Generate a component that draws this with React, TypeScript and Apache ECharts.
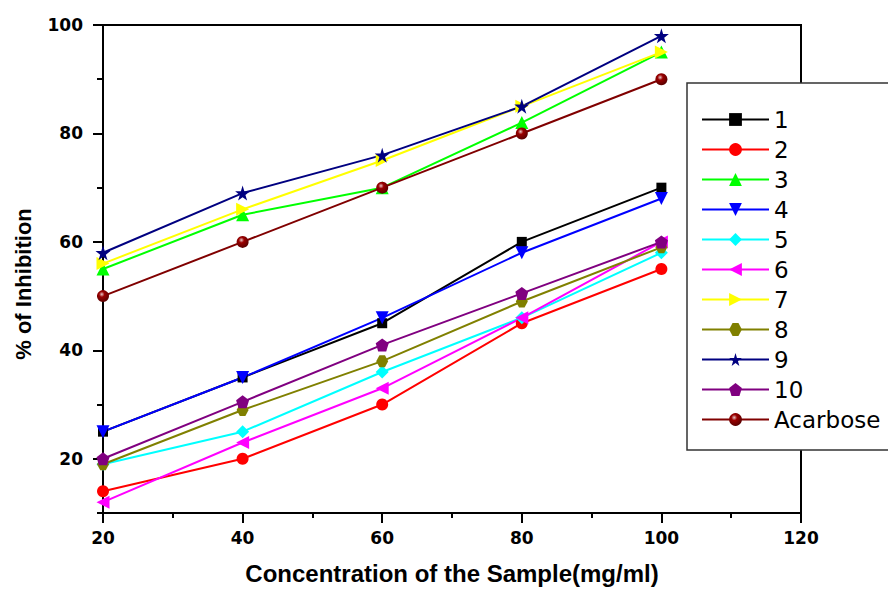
import React, { useEffect, useRef } from 'react';
import * as echarts from 'echarts';

const concentrations = [20, 40, 60, 80, 100];
const yTickValues = [20, 40, 60, 80, 100];
const yMinorTickValues = [10, 30, 50, 70, 90];
const seriesNames = ['1', '2', '3', '4', '5', '6', '7', '8', '9', '10', 'Acarbose'];

const s1 = [25, 35, 45, 60, 70];
const s2 = [14, 20, 30, 45, 55];
const s3 = [55, 65, 70, 82, 95];
const s4 = [25, 35, 46, 58, 68];
const s5 = [19, 25, 36, 46, 58];
const s6 = [12, 23, 33, 46, 60];
const s7 = [56, 66, 75, 85, 95];
const s8 = [19, 29, 38, 49, 59];
const s9 = [58, 69, 76, 85, 98];
const s10 = [20, 30.5, 41, 50.5, 60];
const acarbose = [50, 60, 70, 80, 90];

const allValues = [s1, s2, s3, s4, s5, s6, s7, s8, s9, s10, acarbose];

const colors = ['#000000', '#FF0000', '#00FF00', '#0000FF', '#00FFFF', '#FF00FF', '#FFFF00', '#808000', '#000080', '#800080', '#800000'];

const STAR = 'path://M50,0 L61,35 L98,35 L68,57 L79,91 L50,70 L21,91 L32,57 L2,35 L39,35 Z';
const HEX = 'path://M27,0 L73,0 L100,50 L73,100 L27,100 L0,50 Z';
const PENT = 'path://M50,0 L100,38 L81,100 L19,100 L0,38 Z';

const symbols = ['rect', 'circle', 'triangle', 'triangle', 'diamond', 'triangle', 'triangle', HEX, STAR, PENT, 'circle'];
const rotations = [0, 0, 0, 180, 0, 90, -90, 0, 0, 0, 0];
const sizes = [10, 12, 13, 13, 13, 13, 13, 12, 15, 13, 12];

export default function App() {
  const ref = useRef<HTMLDivElement>(null);
  useEffect(() => {
    if (!ref.current) return;
    const chart = echarts.init(ref.current, undefined, { renderer: 'svg' });
    const black = '#000';
    const series = allValues.map((vals, i) => {
      const itemColor: any = i === 10
        ? {
            type: 'radial', x: 0.4, y: 0.35, r: 0.65,
            colorStops: [
              { offset: 0, color: '#e8c8c8' },
              { offset: 0.35, color: '#9a0000' },
              { offset: 1, color: '#5a0000' },
            ],
          }
        : colors[i];
      return {
        name: seriesNames[i],
        type: 'line',
        xAxisIndex: 0,
        yAxisIndex: 0,
        data: concentrations.map((c, j) => [c, vals[j]]),
        symbol: symbols[i],
        symbolRotate: rotations[i],
        symbolSize: sizes[i],
        showAllSymbol: true,
        lineStyle: { color: colors[i], width: 2 },
        itemStyle: { color: itemColor, borderWidth: 0 },
        emphasis: { disabled: true },
      };
    });
    chart.setOption({
      animation: false,
      backgroundColor: '#fff',
      grid: {
        left: 103, right: 87, top: 25, bottom: 76,
        show: true, borderColor: black, borderWidth: 2, backgroundColor: 'transparent',
      },
      xAxis: {
        type: 'value', min: 20, max: 120, interval: 20,
        axisLine: { onZero: false, lineStyle: { color: black, width: 2 } },
        axisTick: { length: 10, lineStyle: { color: black, width: 2 } },
        minorTick: { show: true, splitNumber: 2, length: 5, lineStyle: { color: black, width: 2 } },
        splitLine: { show: false },
        minorSplitLine: { show: false },
        axisLabel: { margin: 16, fontFamily: 'DejaVu Sans', fontWeight: 'bold', fontSize: 17, color: black },
        name: 'Concentration of the Sample(mg/ml)',
        nameLocation: 'middle',
        nameGap: 48,
        nameTextStyle: { fontFamily: 'Liberation Sans', fontWeight: 'bold', fontSize: 24, color: black },
      },
      yAxis: [
        {
          type: 'value', min: 10, max: 100,
          axisLine: { onZero: false, lineStyle: { color: black, width: 2 } },
          axisTick: { customValues: yTickValues, length: 10, lineStyle: { color: black, width: 2 } },
          axisLabel: { customValues: yTickValues, margin: 20, fontFamily: 'DejaVu Sans', fontWeight: 'bold', fontSize: 17, color: black },
          splitLine: { show: false },
        },
        {
          type: 'value', min: 10, max: 100, position: 'left',
          axisLine: { show: false, onZero: false },
          axisTick: { customValues: yMinorTickValues, length: 6, lineStyle: { color: black, width: 2 } },
          axisLabel: { show: false },
          splitLine: { show: false },
        },
      ],
      legend: {
        orient: 'vertical',
        left: 701,
        top: 108,
        padding: 0,
        itemWidth: 67,
        itemHeight: 16,
        itemGap: 7,
        z: 20,
        data: seriesNames,
        textStyle: { fontFamily: 'DejaVu Sans', fontSize: 23, color: black },
      },
      graphic: [
        {
          type: 'rect', z: 10,
          shape: { x: 687, y: 83, width: 500, height: 367 },
          style: { fill: '#fff', stroke: '#333', lineWidth: 1.5 },
        },
        {
          type: 'text', z: 10, x: 23, y: 284, rotation: Math.PI / 2,
          style: {
            text: '% of Inhibition', fontFamily: 'Liberation Sans', fontWeight: 'bold', fontSize: 22,
            fill: black, align: 'center', verticalAlign: 'middle',
          },
        },
      ],
      series,
    });
    return () => chart.dispose();
  }, []);
  return <div ref={ref} style={{ position: 'fixed', left: 0, top: 0, width: 888, height: 590, background: '#fff' }} />;
}
